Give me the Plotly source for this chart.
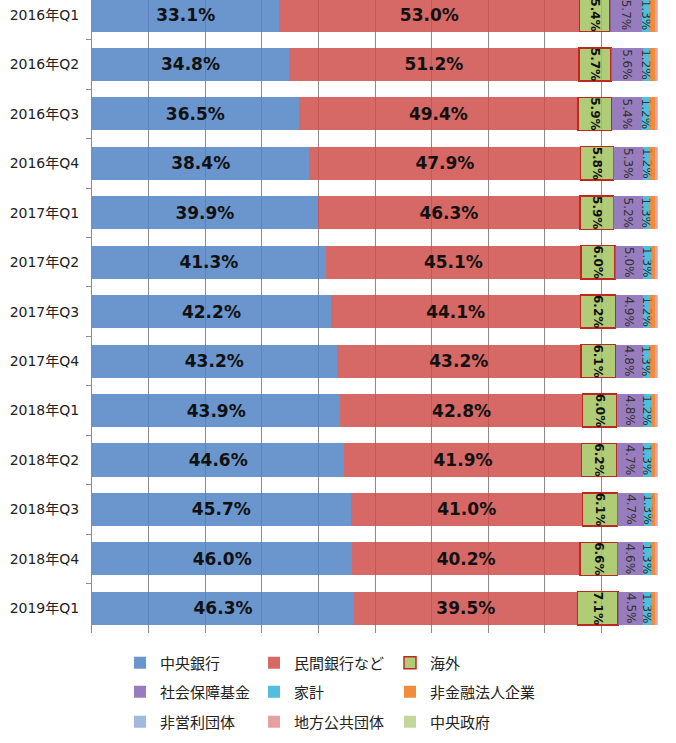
import plotly.graph_objects as go

quarters = ["2016年Q1", "2016年Q2", "2016年Q3", "2016年Q4",
            "2017年Q1", "2017年Q2", "2017年Q3", "2017年Q4",
            "2018年Q1", "2018年Q2", "2018年Q3", "2018年Q4", "2019年Q1"]

central_bank = [33.1, 34.8, 36.5, 38.4, 39.9, 41.3, 42.2, 43.2, 43.9, 44.6, 45.7, 46.0, 46.3]
private_banks = [53.0, 51.2, 49.4, 47.9, 46.3, 45.1, 44.1, 43.2, 42.8, 41.9, 41.0, 40.2, 39.5]
overseas = [5.4, 5.7, 5.9, 5.8, 5.9, 6.0, 6.2, 6.1, 6.0, 6.2, 6.1, 6.6, 7.1]
social_security = [5.7, 5.6, 5.4, 5.3, 5.2, 5.0, 4.9, 4.8, 4.8, 4.7, 4.7, 4.6, 4.5]
households = [1.3, 1.2, 1.2, 1.2, 1.3, 1.3, 1.2, 1.3, 1.2, 1.3, 1.3, 1.3, 1.3]
nonfin_corps = [0.9, 0.9, 1.0, 0.8, 0.8, 0.7, 0.8, 0.8, 0.7, 0.7, 0.6, 0.7, 0.7]
nonprofit = [0.3, 0.3, 0.3, 0.3, 0.3, 0.3, 0.3, 0.3, 0.3, 0.3, 0.3, 0.3, 0.3]
local_gov = [0.2, 0.2, 0.2, 0.2, 0.2, 0.2, 0.2, 0.2, 0.2, 0.2, 0.2, 0.2, 0.2]
central_gov = [0.1, 0.1, 0.1, 0.1, 0.1, 0.1, 0.1, 0.1, 0.1, 0.1, 0.1, 0.1, 0.1]

A = 0.85
series = [
    ("中央銀行", central_bank, f"rgba(80,131,196,{A})", "big"),
    ("民間銀行など", private_banks, f"rgba(207,77,75,{A})", "big"),
    ("海外", overseas, f"rgba(162,195,94,{A})", "boldsmall"),
    ("社会保障基金", social_security, f"rgba(134,102,179,{A})", "small"),
    ("家計", households, f"rgba(49,179,214,{A})", "small"),
    ("非金融法人企業", nonfin_corps, f"rgba(237,120,26,{A})", None),
    ("非営利団体", nonprofit, f"rgba(143,173,214,{A})", None),
    ("地方公共団体", local_gov, f"rgba(226,143,143,{A})", None),
    ("中央政府", central_gov, f"rgba(184,208,137,{A})", None),
]

# legend grid: 3 columns x 3 rows, one legend per entry
legend_x = [0.0495, 0.2862, 0.5265]
legend_y = [-0.0474, -0.0932, -0.1406]

fig = go.Figure()
legends = {}
for i, (name, vals, color, style) in enumerate(series):
    leg_id = "legend" if i == 0 else f"legend{i + 1}"
    legends[leg_id] = dict(
        orientation="h", xanchor="left", x=legend_x[i % 3],
        yanchor="middle", y=legend_y[i // 3],
        font=dict(family="Noto Sans CJK JP", size=15, color="#222"),
        bgcolor="rgba(0,0,0,0)", borderwidth=0)
    kw = {}
    marker = dict(color=color, line=dict(width=0))
    if name == "海外":
        marker["line"] = dict(color="rgb(190,40,30)", width=1.5)
    if style == "big":
        kw = dict(text=[f"{v:.1f}%" for v in vals], textposition="inside",
                  insidetextanchor="middle", textangle=0, constraintext="none",
                  textfont=dict(family="DejaVu Sans", size=17, color="#111", weight="bold"))
    elif style == "boldsmall":
        kw = dict(text=[f"{v:.1f}%" for v in vals], textposition="inside",
                  insidetextanchor="middle", textangle=90, constraintext="none",
                  textfont=dict(family="DejaVu Sans", size=12, color="#111", weight="bold"))
    elif style == "small":
        kw = dict(text=[f"{v:.1f}%" for v in vals], textposition="inside",
                  insidetextanchor="middle", textangle=90, constraintext="none",
                  textfont=dict(family="DejaVu Sans", size=12, color="#333"))
    fig.add_trace(go.Bar(y=quarters, x=vals, name=name, orientation="h",
                         marker=marker, legend=leg_id, hoverinfo="skip", **kw))

fig.update_layout(
    width=676, height=743,
    margin=dict(l=92, r=18, t=0, b=110, autoexpand=False),
    barmode="stack", bargap=0.33,
    plot_bgcolor="white", paper_bgcolor="white",
    showlegend=True,
    xaxis=dict(range=[0, 100], dtick=10, showgrid=True, gridcolor="#8c8c8c",
               gridwidth=1, showticklabels=False, zeroline=False, showline=False,
               ticks=""),
    yaxis=dict(type="category", categoryorder="array", categoryarray=quarters,
               range=[12.5, -0.303], showgrid=False, showline=True,
               linecolor="#8c8c8c", linewidth=1, ticks="outside",
               tickson="boundaries", ticklen=5, tickcolor="#8c8c8c",
               tickfont=dict(family="DejaVu Sans, Noto Sans CJK JP", size=14, color="#222"),
               ticklabelstandoff=9),
    **legends,
)

fig.write_html("out.html")
